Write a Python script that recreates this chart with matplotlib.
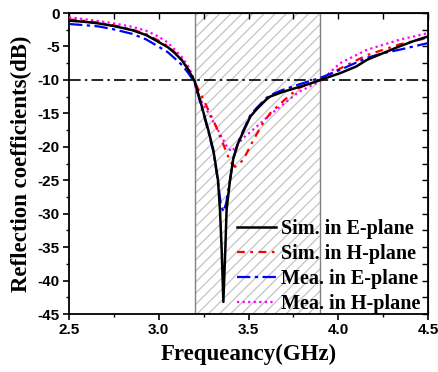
import matplotlib
matplotlib.use('Agg')
import matplotlib.pyplot as plt

# Sim. in E-plane
f_sim_e = [2.5, 2.58, 2.663, 2.75, 2.85, 2.93, 2.997, 3.05, 3.09, 3.13, 3.165, 3.2, 3.23, 3.276,
           3.304, 3.313, 3.33, 3.341, 3.35, 3.36, 3.37, 3.378, 3.397, 3.415, 3.44, 3.47, 3.51,
           3.545, 3.6, 3.62, 3.69, 3.79, 3.85, 3.9, 4.01, 4.1, 4.16, 4.25, 4.34, 4.42, 4.5]
s_sim_e = [-1.15, -1.3, -1.55, -1.95, -2.55, -3.3, -4.3, -5.1, -6.0, -7.1, -8.5, -10.2, -13.0, -17.5,
           -20.5, -22.0, -25.0, -29.4, -35.0, -43.2, -36.0, -29.4, -25.0, -21.8, -19.6, -17.8, -15.5,
           -14.4, -12.9, -12.5, -11.8, -11.0, -10.5, -10.0, -9.0, -8.0, -7.0, -6.0, -5.0, -4.2, -3.5]

# Sim. in H-plane
f_sim_h = [2.5, 2.58, 2.663, 2.75, 2.85, 2.93, 2.997, 3.05, 3.09, 3.13, 3.165, 3.2, 3.25, 3.32,
           3.38, 3.397, 3.425, 3.47, 3.527, 3.58, 3.62, 3.7, 3.78, 3.9, 4.01, 4.16, 4.34, 4.5]
s_sim_h = [-0.95, -1.15, -1.45, -1.85, -2.45, -3.15, -4.1, -4.95, -5.9, -7.0, -8.4, -10.3, -13.0, -17.0,
           -21.0, -22.2, -23.0, -22.0, -19.0, -16.5, -15.0, -13.0, -11.2, -10.0, -8.3, -6.3, -4.7, -3.7]

# Mea. in E-plane
f_mea_e = [2.5, 2.58, 2.663, 2.75, 2.85, 2.93, 2.997, 3.05, 3.09, 3.13, 3.165, 3.2, 3.23, 3.276,
           3.304, 3.313, 3.33, 3.345, 3.36, 3.375, 3.397, 3.415, 3.44, 3.47, 3.51, 3.545, 3.6,
           3.62, 3.69, 3.79, 3.9, 4.01, 4.16, 4.25, 4.34, 4.42, 4.5]
s_mea_e = [-1.65, -1.8, -2.0, -2.45, -3.1, -3.95, -5.0, -5.85, -6.8, -7.8, -9.0, -10.4, -13.2, -17.7,
           -20.7, -22.2, -25.2, -28.5, -29.7, -28.5, -25.0, -21.8, -19.5, -17.6, -15.3, -14.2, -12.7,
           -12.3, -11.5, -10.6, -9.7, -8.5, -6.7, -6.0, -5.5, -5.0, -4.5]

# Mea. in H-plane
f_mea_h = [2.5, 2.58, 2.663, 2.75, 2.85, 2.93, 2.997, 3.05, 3.09, 3.13, 3.165, 3.2, 3.21, 3.267,
           3.32, 3.38, 3.406, 3.47, 3.545, 3.62, 3.7, 3.78, 3.9, 4.01, 4.16, 4.34, 4.5]
s_mea_h = [-0.65, -0.9, -1.2, -1.55, -2.05, -2.65, -3.5, -4.4, -5.5, -6.6, -8.0, -10.1, -12.0, -14.5,
           -17.0, -20.0, -20.7, -18.7, -17.0, -15.2, -13.5, -11.8, -10.2, -7.5, -5.5, -4.0, -3.0]

band = [3.2, 3.9]
labels = ['Sim. in E-plane', 'Sim. in H-plane', 'Mea. in E-plane', 'Mea. in H-plane']

plt.rcParams['hatch.color'] = '#c4c4c4'
plt.rcParams['hatch.linewidth'] = 0.9

fig = plt.figure(figsize=(4.38, 3.72), dpi=100)
ax = fig.add_axes([69/438, 58/372, 359/438, 301/372])

ax.axvspan(band[0], band[1], facecolor='none', edgecolor='#c4c4c4', hatch='///', lw=0, zorder=0)
ax.axvline(band[0], color='#808080', lw=1.0, zorder=1)
ax.axvline(band[1], color='#808080', lw=1.0, zorder=1)
ax.axhline(-10, color='black', lw=1.2, dashes=(7, 2.5, 1.5, 2.5), zorder=2)

ax.plot(f_sim_e, s_sim_e, color='black', lw=1.8, label=labels[0], zorder=5)
ax.plot(f_sim_h, s_sim_h, color='red', lw=1.6, dashes=(3.5, 2.5, 1.2, 2.5), label=labels[1], zorder=4)
ax.plot(f_mea_e, s_mea_e, color='blue', lw=1.6, dashes=(6, 2, 1.5, 2), label=labels[2], zorder=4)
ax.plot(f_mea_h, s_mea_h, color='magenta', lw=1.6, dashes=(1, 1.5), label=labels[3], zorder=3)

ax.set_xlim(2.5, 4.5)
ax.set_ylim(-45, 0)
ax.set_xticks([2.5, 3.0, 3.5, 4.0, 4.5])
ax.set_xticks([2.75, 3.25, 3.75, 4.25], minor=True)
ax.set_yticks(range(-45, 1, 5))
ax.set_yticks([-42.5, -37.5, -32.5, -27.5, -22.5, -17.5, -12.5, -7.5, -2.5], minor=True)

tick_font = dict(family='Liberation Sans', weight='bold', size=11)
ax.set_xticklabels(['2.5', '3.0', '3.5', '4.0', '4.5'], **tick_font)
ax.set_yticklabels([str(v) for v in range(-45, 1, 5)], **tick_font)
ax.tick_params(which='major', direction='out', length=4.5, width=1.2, pad=2)
ax.tick_params(which='minor', direction='out', length=2.5, width=1.0)

# inward ticks on the top and right
top = ax.secondary_xaxis('top')
top.set_xticks([2.5, 2.75, 3.0, 3.25, 3.5, 3.75, 4.0, 4.25, 4.5])
top.tick_params(direction='in', length=4, width=1.0, labeltop=False)
right = ax.secondary_yaxis('right')
right.set_yticks([v * 2.5 for v in range(-18, 1)])
right.tick_params(direction='in', length=4, width=1.0, labelright=False)

for sp in ax.spines.values():
    sp.set_linewidth(1.3)

label_font = dict(family='Liberation Serif', weight='bold', size=16.5)
ax.set_xlabel('Frequeancy(GHz)', labelpad=5, **label_font)
ax.set_ylabel('Reflection coefficients(dB)', labelpad=4, **label_font)

ax.legend(loc='lower right', bbox_to_anchor=(0.99, -0.015), frameon=False,
          prop=dict(family='Liberation Serif', weight='bold', size=14.5),
          handlelength=1.95, handletextpad=0.25, labelspacing=0.25, borderaxespad=0.0, borderpad=0.2)

fig.savefig('out.png', dpi=100)
